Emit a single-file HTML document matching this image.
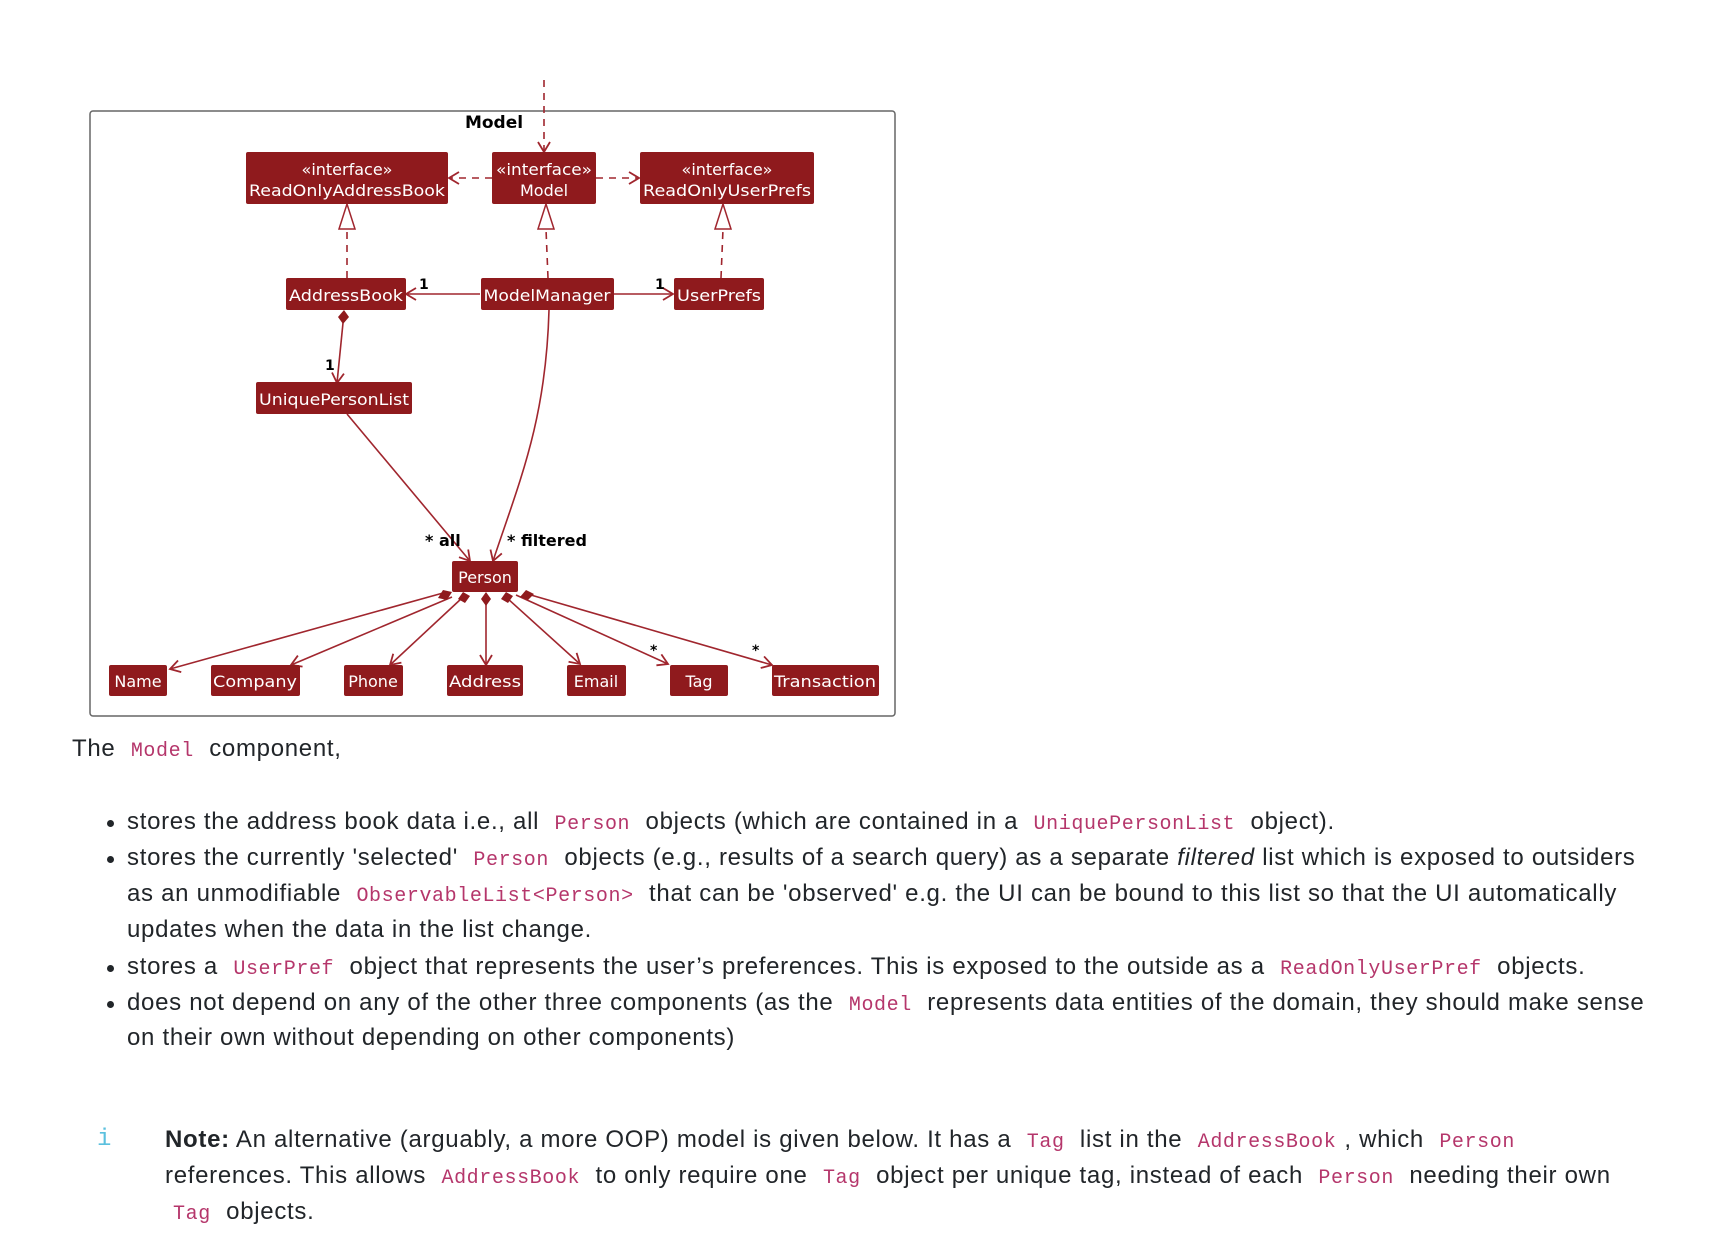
<!DOCTYPE html>
<html><head><meta charset="utf-8"><style>
body{margin:0;width:1726px;height:1256px;background:#fff;position:relative;overflow:hidden;font-family:"Liberation Sans",sans-serif;color:#212529}
.t{position:absolute;white-space:nowrap;font-size:24px;line-height:30px;letter-spacing:0.7px}
code{font-family:"Liberation Mono",monospace;color:#b5366b;font-size:20px;padding:0 8px;letter-spacing:0.6px}
.dot{position:absolute;width:7px;height:7px;border-radius:50%;background:#212529}
svg text{font-family:"DejaVu Sans",sans-serif}
</style></head><body>
<svg width="1726" height="1256" style="position:absolute;left:0;top:0">
<defs>
<marker id="oa" markerWidth="14" markerHeight="14" refX="11" refY="7" orient="auto" markerUnits="userSpaceOnUse"><path d="M1,1 L11,7 L1,13" fill="none" stroke="#a0262e" stroke-width="1.8"/></marker>
</defs>
<rect x="90" y="111" width="805" height="605" rx="3" fill="#fff" stroke="#666" stroke-width="1.5"/>
<text x="494" y="128" font-size="17" font-weight="bold" text-anchor="middle" fill="#000">Model</text>
<g stroke="#a0262e" stroke-width="1.6" fill="none">
<path d="M544,80 L544,152" stroke-dasharray="7,6" marker-end="url(#oa)"/>
<path d="M492,178 L449,178" stroke-dasharray="7,6" marker-end="url(#oa)"/>
<path d="M596,178 L639,178" stroke-dasharray="7,6" marker-end="url(#oa)"/>
<path d="M347,278 L347,229" stroke-dasharray="7,6"/>
<path d="M548,278 L546,229" stroke-dasharray="7,6"/>
<path d="M721,278 L723,229" stroke-dasharray="7,6"/>
<path d="M480,294 L406,294" marker-end="url(#oa)"/>
<path d="M613,294 L673,294" marker-end="url(#oa)"/>
<path d="M343,323 L337,383" marker-end="url(#oa)"/>
<path d="M347,414 L470,561" marker-end="url(#oa)"/>
<path d="M549,310 C546,420 520,480 493,561" marker-end="url(#oa)"/>
<path d="M443,593 L170,669" marker-end="url(#oa)"/>
<path d="M452,597 L291,665" marker-end="url(#oa)"/>
<path d="M462,598 L390,665" marker-end="url(#oa)"/>
<path d="M486,604 L486,665" marker-end="url(#oa)"/>
<path d="M507,598 L580,664" marker-end="url(#oa)"/>
<path d="M516,595 L668,664" marker-end="url(#oa)"/>
<path d="M524,593 L772,665" marker-end="url(#oa)"/>
</g>
<g fill="#fff" stroke="#a0262e" stroke-width="1.5">
<path d="M347,204 L355,229 L339,229 Z"/>
<path d="M546,204 L554,229 L538,229 Z"/>
<path d="M723,204 L731,229 L715,229 Z"/>
</g>
<g fill="#8f1a1d">
<path d="M344,310 L349,317 L343,324 L338,317 Z"/>
<path d="M443,590 L452,592 L447,600 L438,598 Z"/>
<path d="M463,592 L470,596 L465,603 L458,599 Z"/>
<path d="M486,592 L491,599 L486,606 L481,599 Z"/>
<path d="M506,592 L513,596 L508,603 L501,599 Z"/>
<path d="M526,590 L534,594 L528,600 L520,597 Z"/>
</g>
<g font-size="14" font-weight="bold" fill="#000">
<text x="419" y="289">1</text><text x="655" y="289">1</text><text x="325" y="370">1</text>
<text x="425" y="546" font-size="16">* all</text><text x="507" y="546" font-size="16">* filtered</text>
<text x="650" y="655">*</text><text x="752" y="655">*</text>
</g>
<g fill="#8f1a1d">
<rect x="246" y="152" width="202" height="52" rx="2"/>
<rect x="492" y="152" width="104" height="52" rx="2"/>
<rect x="640" y="152" width="174" height="52" rx="2"/>
<rect x="286" y="278" width="120" height="32" rx="2"/>
<rect x="481" y="278" width="133" height="32" rx="2"/>
<rect x="674" y="278" width="90" height="32" rx="2"/>
<rect x="256" y="382" width="156" height="32" rx="2"/>
<rect x="452" y="561" width="66" height="31" rx="2"/>
<rect x="109" y="665" width="58" height="31" rx="2"/>
<rect x="211" y="665" width="89" height="31" rx="2"/>
<rect x="344" y="665" width="59" height="31" rx="2"/>
<rect x="447" y="665" width="76" height="31" rx="2"/>
<rect x="567" y="665" width="59" height="31" rx="2"/>
<rect x="670" y="665" width="58" height="31" rx="2"/>
<rect x="772" y="665" width="107" height="31" rx="2"/>
</g>
<g fill="#fff" font-size="16" text-anchor="middle">
<text x="347" y="175">«interface»</text><text x="347" y="196" textLength="196" lengthAdjust="spacingAndGlyphs">ReadOnlyAddressBook</text>
<text x="544" y="175" textLength="96" lengthAdjust="spacingAndGlyphs">«interface»</text><text x="544" y="196">Model</text>
<text x="727" y="175">«interface»</text><text x="727" y="196" textLength="168" lengthAdjust="spacingAndGlyphs">ReadOnlyUserPrefs</text>
<text x="346" y="301" textLength="114" lengthAdjust="spacingAndGlyphs">AddressBook</text>
<text x="547" y="301" textLength="127" lengthAdjust="spacingAndGlyphs">ModelManager</text>
<text x="719" y="301" textLength="84" lengthAdjust="spacingAndGlyphs">UserPrefs</text>
<text x="334" y="405" textLength="150" lengthAdjust="spacingAndGlyphs">UniquePersonList</text>
<text x="485" y="583">Person</text>
<text x="138" y="687">Name</text>
<text x="255" y="687" textLength="84" lengthAdjust="spacingAndGlyphs">Company</text>
<text x="373" y="687">Phone</text>
<text x="485" y="687" textLength="72" lengthAdjust="spacingAndGlyphs">Address</text>
<text x="596" y="687">Email</text>
<text x="699" y="687">Tag</text>
<text x="825" y="687" textLength="102" lengthAdjust="spacingAndGlyphs">Transaction</text>
</g>
</svg>
<div class="t" style="left:72px;top:734px">The <code>Model</code> component,</div>
<div class="dot" style="left:107px;top:820px"></div>
<div class="t" style="left:127px;top:807px">stores the address book data i.e., all <code>Person</code> objects (which are contained in a <code>UniquePersonList</code> object).</div>
<div class="dot" style="left:107px;top:856px"></div>
<div class="t" style="left:127px;top:843px">stores the currently 'selected' <code>Person</code> objects (e.g., results of a search query) as a separate <i>filtered</i> list which is exposed to outsiders</div>
<div class="t" style="left:127px;top:879px">as an unmodifiable <code>ObservableList&lt;Person&gt;</code> that can be 'observed' e.g. the UI can be bound to this list so that the UI automatically</div>
<div class="t" style="left:127px;top:915px">updates when the data in the list change.</div>
<div class="dot" style="left:107px;top:965px"></div>
<div class="t" style="left:127px;top:952px">stores a <code>UserPref</code> object that represents the user’s preferences. This is exposed to the outside as a <code>ReadOnlyUserPref</code> objects.</div>
<div class="dot" style="left:107px;top:1001px"></div>
<div class="t" style="left:127px;top:988px">does not depend on any of the other three components (as the <code>Model</code> represents data entities of the domain, they should make sense</div>
<div class="t" style="left:127px;top:1023px">on their own without depending on other components)</div>
<div class="t" style="left:97px;top:1125px;color:#5bc0de;font-family:'Liberation Mono',monospace;font-size:24px">i</div>
<div class="t" style="left:165px;top:1125px"><b>Note:</b> An alternative (arguably, a more OOP) model is given below. It has a <code>Tag</code> list in the <code>AddressBook</code>, which <code>Person</code></div>
<div class="t" style="left:165px;top:1161px">references. This allows <code>AddressBook</code> to only require one <code>Tag</code> object per unique tag, instead of each <code>Person</code> needing their own</div>
<div class="t" style="left:165px;top:1197px"><code>Tag</code> objects.</div>
</body></html>
